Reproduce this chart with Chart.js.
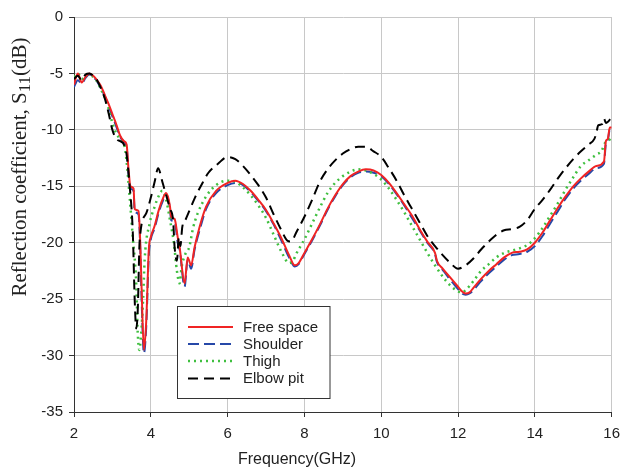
<!DOCTYPE html>
<html>
<head>
<meta charset="utf-8">
<script src="https://cdn.jsdelivr.net/npm/chart.js@4.4.1/dist/chart.umd.min.js"></script>
<style>
  html, body { margin: 0; padding: 0; background: #fff; }
  #wrap { width: 628px; height: 470px; }
</style>
</head>
<body>
<div id="wrap"><canvas id="s11Chart" width="628" height="470"></canvas></div>
<script>
// valores (GHz, dB)
const xTicks = [2, 4, 6, 8, 10, 12, 14, 16];
const yTicks = [0, -5, -10, -15, -20, -25, -30, -35];

const freeF = [2.0,2.1,2.2,2.3,2.4,2.5,2.6,2.7,2.8,2.9,3.0,3.1,3.2,3.3,3.37,3.42,3.47,3.55,3.58,3.68,3.72,3.76,3.82,3.88,3.95,4.0,4.1,4.2,4.3,4.4,4.5,4.53,4.62,4.7,4.75,4.88,4.96,5.05,5.14,5.27,5.44,5.7,6.0,6.2,6.4,6.6,6.8,7.0,7.2,7.4,7.6,7.75,7.85,8.0,8.2,8.4,8.6,8.8,9.0,9.2,9.4,9.6,9.8,10.0,10.2,10.4,10.6,10.8,11.0,11.2,11.4,11.45,11.6,11.8,12.0,12.1,12.2,12.3,12.4,12.6,12.8,13.0,13.2,13.4,13.6,13.8,14.0,14.2,14.4,14.6,14.8,15.0,15.2,15.4,15.6,15.8,15.85,15.9,15.95,16.0];
const freeS = [-6.0,-5.0,-5.8,-5.3,-5.0,-5.2,-5.6,-6.1,-6.9,-7.7,-8.6,-9.5,-10.5,-11.0,-11.3,-13.5,-15.0,-15.2,-17.0,-17.2,-19.5,-24.0,-29.5,-27.0,-20.5,-19.5,-18.5,-17.2,-16.2,-15.6,-16.8,-17.7,-17.9,-19.5,-20.4,-23.6,-21.3,-22.0,-20.4,-18.6,-16.8,-15.4,-14.7,-14.5,-14.8,-15.4,-16.2,-17.1,-18.3,-19.6,-21.1,-22.0,-21.8,-20.9,-19.7,-18.4,-17.0,-15.8,-14.8,-14.1,-13.7,-13.5,-13.6,-14.0,-14.7,-15.6,-16.6,-17.6,-18.8,-19.9,-20.9,-21.6,-22.3,-23.1,-23.9,-24.3,-24.5,-24.4,-24.0,-23.2,-22.5,-21.9,-21.3,-20.9,-20.8,-20.6,-20.0,-19.1,-18.0,-16.9,-15.9,-15.0,-14.3,-13.7,-13.2,-12.8,-11.0,-10.8,-9.8,-9.8];

const shoulderF = freeF;
const shoulderS = [-6.2,-5.6,-5.9,-5.4,-5.1,-5.3,-5.7,-6.3,-7.0,-7.9,-8.8,-9.7,-10.6,-11.1,-11.5,-14.0,-15.2,-15.4,-17.2,-17.5,-20.0,-25.0,-29.8,-27.5,-21.0,-19.7,-18.7,-17.4,-16.4,-15.8,-17.0,-18.0,-18.1,-20.0,-20.6,-23.9,-21.5,-22.3,-20.6,-18.9,-17.0,-15.6,-14.9,-14.7,-14.9,-15.5,-16.3,-17.2,-18.4,-19.8,-21.3,-22.1,-21.9,-21.0,-19.8,-18.5,-17.1,-15.9,-14.9,-14.2,-13.8,-13.7,-13.8,-14.1,-14.8,-15.7,-16.7,-17.8,-18.9,-20.0,-21.0,-21.7,-22.4,-23.3,-24.1,-24.5,-24.6,-24.5,-24.2,-23.4,-22.7,-22.1,-21.5,-21.1,-21.0,-20.8,-20.3,-19.4,-18.3,-17.2,-16.1,-15.2,-14.5,-13.9,-13.4,-13.0,-11.2,-10.9,-10.0,-10.0];

const thighF = [2.0,2.1,2.2,2.3,2.4,2.5,2.6,2.7,2.8,2.9,3.0,3.1,3.2,3.3,3.37,3.45,3.53,3.62,3.66,3.7,3.75,3.8,3.84,3.97,4.1,4.2,4.3,4.4,4.5,4.6,4.68,4.75,4.8,4.9,5.0,5.1,5.22,5.44,5.7,6.0,6.2,6.4,6.6,6.8,7.0,7.2,7.4,7.6,7.7,7.8,8.0,8.2,8.4,8.6,8.8,9.0,9.2,9.4,9.6,9.8,10.0,10.2,10.4,10.6,10.8,11.0,11.2,11.4,11.6,11.8,12.0,12.1,12.2,12.4,12.6,12.8,13.0,13.2,13.4,13.6,13.8,14.0,14.2,14.4,14.6,14.8,15.0,15.2,15.4,15.6,15.75,15.8,15.9,16.0];
const thighS = [-5.3,-5.0,-5.5,-5.2,-5.1,-5.3,-5.7,-6.4,-7.1,-8.1,-9.4,-10.3,-10.8,-11.2,-12.8,-16.0,-19.5,-23.6,-28.0,-29.5,-28.0,-25.0,-21.5,-18.3,-16.8,-15.9,-15.4,-16.2,-18.0,-20.0,-22.5,-23.6,-22.2,-21.0,-20.4,-18.7,-17.4,-15.9,-14.9,-14.5,-14.6,-15.1,-15.8,-16.7,-17.8,-19.3,-20.8,-21.8,-21.6,-20.9,-19.7,-18.3,-16.9,-15.6,-14.7,-14.1,-13.7,-13.5,-13.6,-13.9,-14.4,-15.2,-16.2,-17.3,-18.5,-19.7,-20.9,-22.0,-23.0,-23.8,-24.3,-24.4,-24.2,-23.4,-22.5,-21.9,-21.3,-20.9,-20.7,-20.5,-20.2,-19.6,-18.7,-17.6,-16.5,-15.3,-14.2,-13.2,-12.7,-12.2,-11.8,-11.3,-11.0,-10.7];

const elbowF = [2.0,2.1,2.2,2.3,2.4,2.5,2.6,2.7,2.8,2.9,3.0,3.1,3.2,3.3,3.37,3.45,3.53,3.58,3.62,3.66,3.71,3.88,4.0,4.1,4.19,4.3,4.4,4.5,4.58,4.62,4.68,4.73,4.77,4.82,4.9,5.0,5.15,5.3,5.5,5.75,6.0,6.2,6.4,6.6,6.8,7.0,7.2,7.4,7.55,7.65,7.8,8.0,8.2,8.4,8.6,8.8,9.0,9.2,9.4,9.6,9.8,10.0,10.2,10.4,10.6,10.8,11.0,11.2,11.4,11.6,11.8,12.0,12.2,12.4,12.6,12.8,13.0,13.2,13.4,13.6,13.8,14.0,14.2,14.4,14.6,14.8,15.0,15.2,15.4,15.55,15.6,15.65,15.75,15.8,15.85,16.0];
const elbowS = [-5.5,-5.2,-5.6,-5.1,-5.0,-5.2,-5.6,-6.3,-7.2,-8.5,-10.0,-10.8,-11.0,-11.3,-12.2,-15.0,-19.0,-25.0,-27.6,-26.0,-19.8,-17.4,-16.0,-14.6,-13.4,-14.6,-15.8,-17.0,-18.0,-20.4,-21.6,-19.5,-20.3,-18.6,-18.0,-17.2,-16.0,-15.0,-13.8,-13.0,-12.4,-12.6,-13.2,-14.0,-14.9,-16.0,-17.5,-18.9,-19.8,-19.9,-19.0,-17.7,-16.2,-14.6,-13.5,-12.7,-12.1,-11.7,-11.5,-11.5,-11.9,-12.4,-13.4,-14.5,-15.8,-17.0,-18.2,-19.4,-20.3,-21.1,-21.8,-22.3,-22.0,-21.4,-20.6,-19.9,-19.3,-18.9,-18.8,-18.6,-18.0,-17.0,-16.2,-15.3,-14.3,-13.4,-12.6,-11.9,-11.3,-10.8,-10.3,-9.6,-9.5,-9.0,-9.4,-8.9];

const SANS = "'Liberation Sans', Arial, sans-serif";
const SERIF = "'Liberation Serif', 'Times New Roman', serif";

function pts(xs, ys) {
    return xs.map((x, i) => ({ x: x, y: ys[i] }));
}

// legenda com moldura dentro da área do gráfico
const boxLegend = {
    id: 'boxLegend',
    afterDraw(chart) {
        const ctx = chart.ctx;
        ctx.save();
        ctx.fillStyle = '#fff';
        ctx.fillRect(177.5, 306.5, 152.5, 92);
        ctx.strokeStyle = '#333';
        ctx.lineWidth = 1;
        ctx.strokeRect(177.5, 306.5, 152.5, 92);
        const rows = [327, 344, 361, 378.5];
        chart.data.datasets.forEach((ds, i) => {
            const y = rows[i];
            ctx.strokeStyle = ds.borderColor;
            ctx.lineWidth = ds.borderWidth;
            ctx.setLineDash(ds.borderDash || []);
            ctx.beginPath();
            ctx.moveTo(188, y);
            ctx.lineTo(233, y);
            ctx.stroke();
            ctx.setLineDash([]);
            ctx.fillStyle = '#222';
            ctx.font = '15px ' + SANS;
            ctx.textBaseline = 'middle';
            ctx.textAlign = 'left';
            ctx.fillText(ds.label, 243, y + 0.5);
        });
        ctx.restore();
    }
};

// títulos dos eixos (o do eixo y tem índice S11)
const axisTitles = {
    id: 'axisTitles',
    afterDraw(chart) {
        const ctx = chart.ctx;
        ctx.save();
        ctx.fillStyle = '#222';
        ctx.font = '16px ' + SANS;
        ctx.textAlign = 'center';
        ctx.textBaseline = 'alphabetic';
        ctx.fillText('Frequency(GHz)', 297, 464);

        ctx.translate(25.5, 167);
        ctx.rotate(-Math.PI / 2);
        const main = 'Reflection coefficient, S';
        const sub = '11';
        const tail = '(dB)';
        ctx.font = '21px ' + SERIF;
        const w1 = ctx.measureText(main).width;
        const w3 = ctx.measureText(tail).width;
        ctx.font = '17px ' + SERIF;
        const w2 = ctx.measureText(sub).width;
        let x = -(w1 + w2 + w3) / 2;
        ctx.textAlign = 'left';
        ctx.font = '21px ' + SERIF;
        ctx.fillText(main, x, 0);
        x += w1;
        ctx.font = '17px ' + SERIF;
        ctx.fillText(sub, x, 4);
        x += w2;
        ctx.font = '21px ' + SERIF;
        ctx.fillText(tail, x, 0);
        ctx.restore();
    }
};

new Chart(document.getElementById('s11Chart'), {
    type: 'line',
    data: {
        datasets: [
            { label: 'Free space', data: pts(freeF, freeS), borderColor: '#f02424', borderWidth: 2, order: 1 },
            { label: 'Shoulder', data: pts(shoulderF, shoulderS), borderColor: '#2648a8', borderWidth: 2, borderDash: [11, 5], order: 3 },
            { label: 'Thigh', data: pts(thighF, thighS), borderColor: '#3fbf3f', borderWidth: 2.5, borderDash: [2, 4], order: 2 },
            { label: 'Elbow pit', data: pts(elbowF, elbowS), borderColor: '#000', borderWidth: 2, borderDash: [10, 6], order: 0 }
        ]
    },
    options: {
        responsive: false,
        animation: false,
        layout: { padding: { top: 17, right: 14, left: 0, bottom: 0 } },
        elements: {
            point: { radius: 0 },
            line: { cubicInterpolationMode: 'monotone', fill: false }
        },
        plugins: {
            legend: { display: false },
            tooltip: { enabled: false }
        },
        scales: {
            x: {
                type: 'linear',
                min: 2, max: 16,
                afterFit: s => { s.height = 58; },
                afterBuildTicks: s => { s.ticks = xTicks.map(v => ({ value: v })); },
                ticks: { color: '#222', font: { family: SANS, size: 15 }, padding: 8, maxRotation: 0 },
                grid: { color: '#c8c8c8', tickColor: '#333', tickLength: 5 },
                border: { color: '#333', width: 1 }
            },
            y: {
                type: 'linear',
                min: -35, max: 0,
                afterFit: s => { s.width = 74; },
                afterBuildTicks: s => { s.ticks = yTicks.map(v => ({ value: v })); },
                ticks: { color: '#222', font: { family: SANS, size: 15 }, padding: 6 },
                grid: { color: '#c8c8c8', tickColor: '#333', tickLength: 5 },
                border: { color: '#333', width: 1 }
            }
        }
    },
    plugins: [boxLegend, axisTitles]
});
</script>
</body>
</html>
